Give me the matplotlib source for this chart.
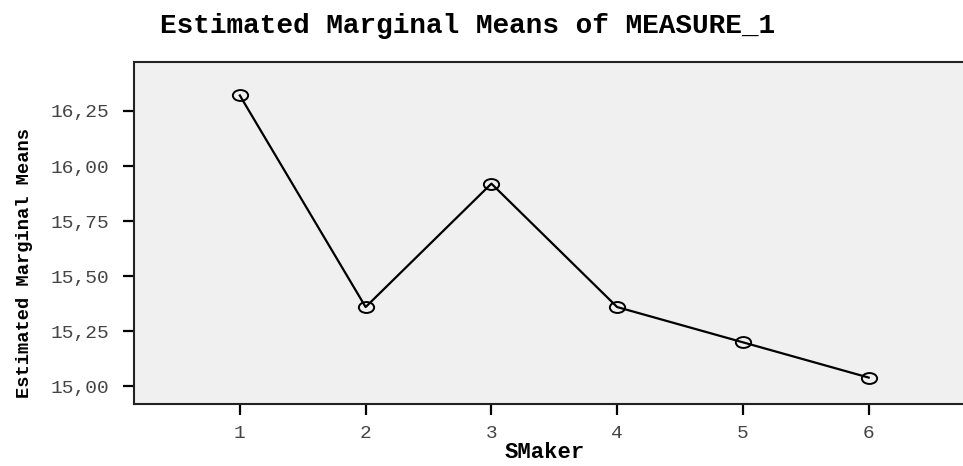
import matplotlib
matplotlib.use("Agg")
import matplotlib.pyplot as plt
from matplotlib.path import Path
from matplotlib.transforms import Affine2D

# Médias marginais estimadas por nível de SMaker
niveis = [1, 2, 3, 4, 5, 6]
medias = [16.32, 15.36, 15.92, 15.36, 15.20, 15.04]
yticks = [15.00, 15.25, 15.50, 15.75, 16.00, 16.25]
ytick_labels = [f"{v:.2f}".replace(".", ",") for v in yticks]

titulo = "Estimated Marginal Means of MEASURE_1"
rotulo_x = "SMaker"
rotulo_y = "Estimated Marginal Means"

# marcador circular levemente achatado
elipse = Path.unit_circle().transformed(Affine2D().scale(1.4, 1.0))

fig = plt.figure(figsize=(9.63, 4.66), dpi=100)
ax = fig.add_axes([0.139, 0.133, 0.861, 0.734])
ax.set_facecolor("#f0f0f0")

ax.plot(niveis, medias, color="black", lw=1.6,
        marker=elipse, markersize=11, markerfacecolor="none",
        markeredgecolor="black", markeredgewidth=1.4)

ax.set_xlim(0.157, 6.75)
ax.set_ylim(14.92, 16.472)
ax.set_xticks(niveis)
ax.set_xticklabels([str(n) for n in niveis])
ax.set_yticks(yticks)
ax.set_yticklabels(ytick_labels)

ax.spines["right"].set_visible(False)
for lado in ("left", "bottom", "top"):
    ax.spines[lado].set_linewidth(1.5)
    ax.spines[lado].set_color("#222222")

ax.tick_params(axis="both", direction="out", length=8, width=1.6,
               color="black", labelcolor="#444444")
ax.tick_params(axis="y", pad=10)
ax.tick_params(axis="x", pad=7)
for lbl in ax.get_xticklabels() + ax.get_yticklabels():
    lbl.set_fontfamily("Liberation Mono")
    lbl.set_fontsize(14)

fig.text(0.486, 0.945, titulo, ha="center", va="center",
         fontfamily="Liberation Mono", fontweight="bold", fontsize=20)
fig.text(0.566, 0.028, rotulo_x, ha="center", va="center",
         fontfamily="Liberation Mono", fontweight="bold", fontsize=16)
fig.text(0.025, 0.436, rotulo_y, ha="center", va="center", rotation=90,
         fontfamily="Liberation Mono", fontweight="bold", fontsize=13.5)

fig.savefig("out.png", dpi=100)
